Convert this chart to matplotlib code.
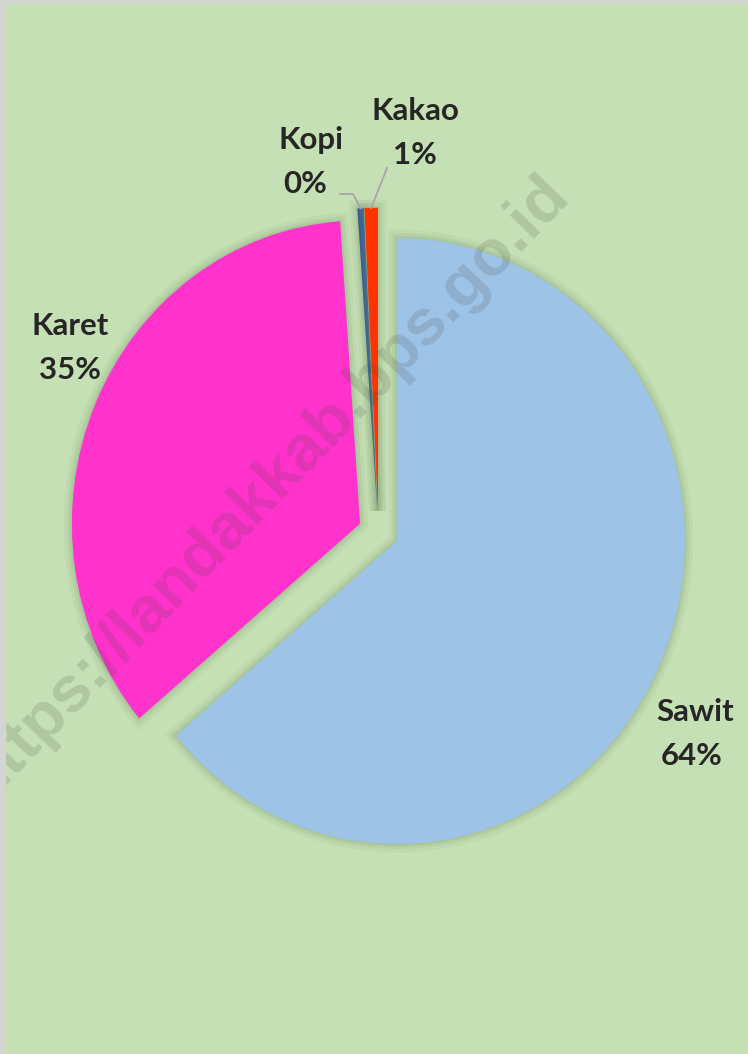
import matplotlib
matplotlib.use('Agg')
from matplotlib import pyplot as plt
from matplotlib import patheffects as pe
from matplotlib.patches import Rectangle
import numpy as np

# data
crops = ['Sawit', 'Karet', 'Kopi', 'Kakao']
shares = [63.9, 35.0, 0.35, 0.75]
colors = ['#9DC3E6', '#FF33CC', '#2F5597', '#FF3300']
watermark = 'https://landakkab.bps.go.id'

W, H = 748, 1054
BG = '#C5E0B4'
TXT = '#262626'

# pixel placement of the pie (centre, radii)
CX, CY, RX, RY = 378.5, 532.0, 288.0, 303.0

def to_data(x, y):
    # picture pixel (from top-left) -> pie data coords
    return (x - CX) / RX, (CY - y) / RY

if __name__ == '__main__':
    fig = plt.figure(figsize=(W / 100, H / 100), dpi=100, facecolor=BG)
    ax = fig.add_axes([0, 0, 1, 1])
    ax.set_facecolor(BG)

    glow = [pe.Stroke(linewidth=12, foreground='#7E9E70', alpha=0.10),
            pe.Stroke(linewidth=7, foreground='#7E9E70', alpha=0.14),
            pe.Stroke(linewidth=3, foreground='#7E9E70', alpha=0.18),
            pe.Normal()]
    wedges, _ = ax.pie(shares, colors=colors, startangle=90, counterclock=False,
                       explode=[0.07] * len(shares), radius=1.0,
                       wedgeprops=dict(linewidth=0, path_effects=glow))
    ax.set_aspect('auto')
    x0, y1 = to_data(0, 0)
    x1, y0 = to_data(W, H)
    ax.set_xlim(x0, x1)
    ax.set_ylim(y0, y1)
    ax.axis('off')

    total = sum(shares)
    pcts = ['%d%%' % round(v / total * 100) for v in shares]

    # label positions (picture pixels, centre of the name line)
    label_pos = {'Sawit': (695, 712), 'Karet': (70, 326), 'Kopi': (311, 140), 'Kakao': (415, 111)}
    pct_shift = {'Sawit': (-3, 0), 'Karet': (0, 0), 'Kopi': (-6, 0), 'Kakao': (0, 0)}
    for name, pct in zip(crops, pcts):
        lx, ly = label_pos[name]
        dx, dy = pct_shift[name]
        ax.text(*to_data(lx, ly), name, ha='center', va='center', fontsize=22.5,
                fontweight='bold', family='Lato', color=TXT, zorder=5)
        ax.text(*to_data(lx + dx, ly + 44), pct, ha='center', va='center', fontsize=22.5,
                fontweight='bold', family='Lato', color=TXT, zorder=5)

    # leader lines for the two thin slices
    elbows = {'Kopi': [(353, 194), (340, 194)], 'Kakao': [(387, 168)]}
    for w, name in zip(wedges, crops):
        if name not in elbows:
            continue
        mid = np.deg2rad((w.theta1 + w.theta2) / 2)
        px = w.center[0] + w.r * np.cos(mid)
        py = w.center[1] + w.r * np.sin(mid)
        pts = [(px, py)] + [to_data(*p) for p in elbows[name]]
        xs, ys = zip(*pts)
        ax.plot(xs, ys, color='#A6A6A6', lw=1.3, zorder=4)

    # watermark (runs off the left edge, as in the source image)
    ax.text(*to_data(266, 488), watermark, rotation=46, ha='center', va='center',
            fontsize=47, fontweight='bold', family='Liberation Sans',
            color=(0.25, 0.25, 0.25, 0.16), zorder=6)

    # thin grey frame on left and top edges
    fig.patches.append(Rectangle((0, 0), 5 / W, 1, transform=fig.transFigure,
                                 color='#D3D6D0', zorder=10))
    fig.patches.append(Rectangle((0, 1 - 3 / H), 1, 3 / H, transform=fig.transFigure,
                                 color='#D3D6D0', zorder=10))

    fig.savefig('out.png', dpi=100, facecolor=BG)
